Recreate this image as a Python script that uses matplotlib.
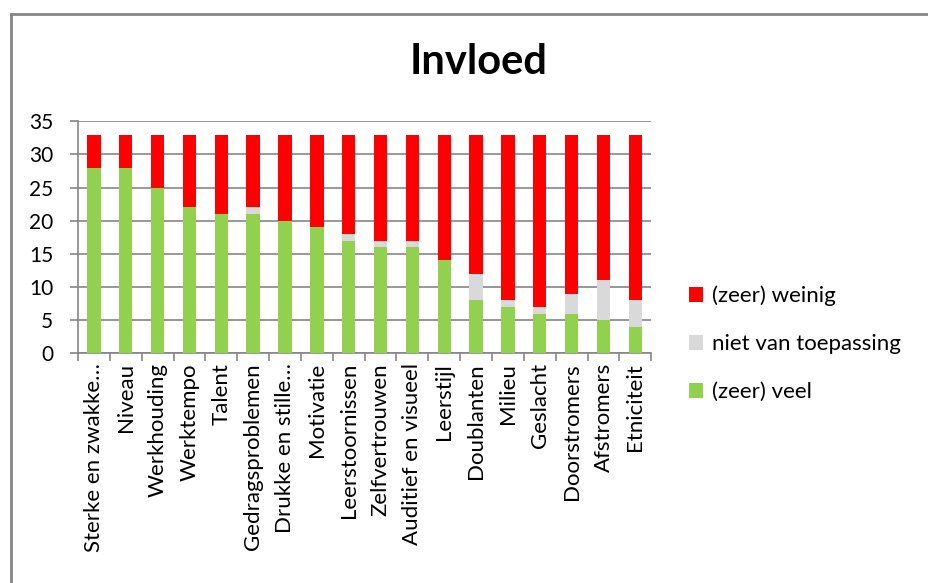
import numpy as np
import matplotlib.pyplot as plt
from matplotlib.lines import Line2D

# ----------------------------
# Data
# ----------------------------
categories = ["Sterke en zwakke…", "Niveau", "Werkhouding", "Werktempo", "Talent",
              "Gedragsproblemen", "Drukke en stille…", "Motivatie", "Leerstoornissen",
              "Zelfvertrouwen", "Auditief en visueel", "Leerstijl", "Doublanten",
              "Milieu", "Geslacht", "Doorstromers", "Afstromers", "Etniciteit"]
veel = [28, 28, 25, 22, 21, 21, 20, 19, 17, 16, 16, 14, 8, 7, 6, 6, 5, 4]
niet_van_toepassing = [0, 0, 0, 0, 0, 1, 0, 0, 1, 1, 1, 0, 4, 1, 1, 3, 6, 4]
weinig = [5, 5, 8, 11, 12, 11, 13, 14, 15, 16, 16, 19, 21, 25, 26, 24, 22, 25]

plt.rcParams['font.family'] = ['Lato', 'DejaVu Sans']

green = "#92d050"
gray = "#d9d9d9"
red = "#ff0000"
line_gray = "#868686"

fig = plt.figure(figsize=(9.29, 5.83), dpi=100)
ax = fig.add_axes([0.084, 0.394, 0.617, 0.398])

x = np.arange(len(categories))
w = 0.42
ax.bar(x, veel, w, color=green, label="(zeer) veel", zorder=3)
ax.bar(x, niet_van_toepassing, w, bottom=veel, color=gray,
       label="niet van toepassing", zorder=3)
bottom2 = np.array(veel) + np.array(niet_van_toepassing)
ax.bar(x, weinig, w, bottom=bottom2, color=red, label="(zeer) weinig", zorder=3)

ax.set_xlim(-0.5, len(categories) - 0.5)
ax.set_ylim(0, 35)
ax.set_yticks(range(0, 36, 5))
ax.grid(axis="y", color=line_gray, linewidth=1.2, zorder=0)

ax.set_xticks(x)
ax.set_xticklabels(categories, rotation=90, fontsize=16)
ax.tick_params(axis="x", length=0, pad=7)
ax.set_xticks(np.arange(-0.5, len(categories), 1), minor=True)
ax.tick_params(axis="x", which="minor", length=6, color=line_gray, width=1.2)
ax.tick_params(axis="y", labelsize=15, length=6, color=line_gray, width=1.2, pad=12)

for side in ["top", "right"]:
    ax.spines[side].set_visible(False)
for side in ["left", "bottom"]:
    ax.spines[side].set_color(line_gray)
    ax.spines[side].set_linewidth(1.2)

handles, labels = ax.get_legend_handles_labels()
fig.legend(handles[::-1], labels[::-1], loc="center left",
           bbox_to_anchor=(0.72, 0.41), frameon=False, fontsize=16,
           handlelength=0.65, handleheight=0.65, labelspacing=1.25,
           handletextpad=0.4)

fig.text(0.515, 0.893, "Invloed", fontsize=30, fontweight="bold",
         ha="center", va="center")

# chart area border (left and top edges visible in the source image)
fig.add_artist(Line2D([11 / 929, 11 / 929], [0, 1 - 14 / 583], transform=fig.transFigure,
                      color=line_gray, linewidth=2))
fig.add_artist(Line2D([11 / 929, 1], [1 - 14 / 583, 1 - 14 / 583], transform=fig.transFigure,
                      color=line_gray, linewidth=2))

plt.savefig("out.png", dpi=100)
